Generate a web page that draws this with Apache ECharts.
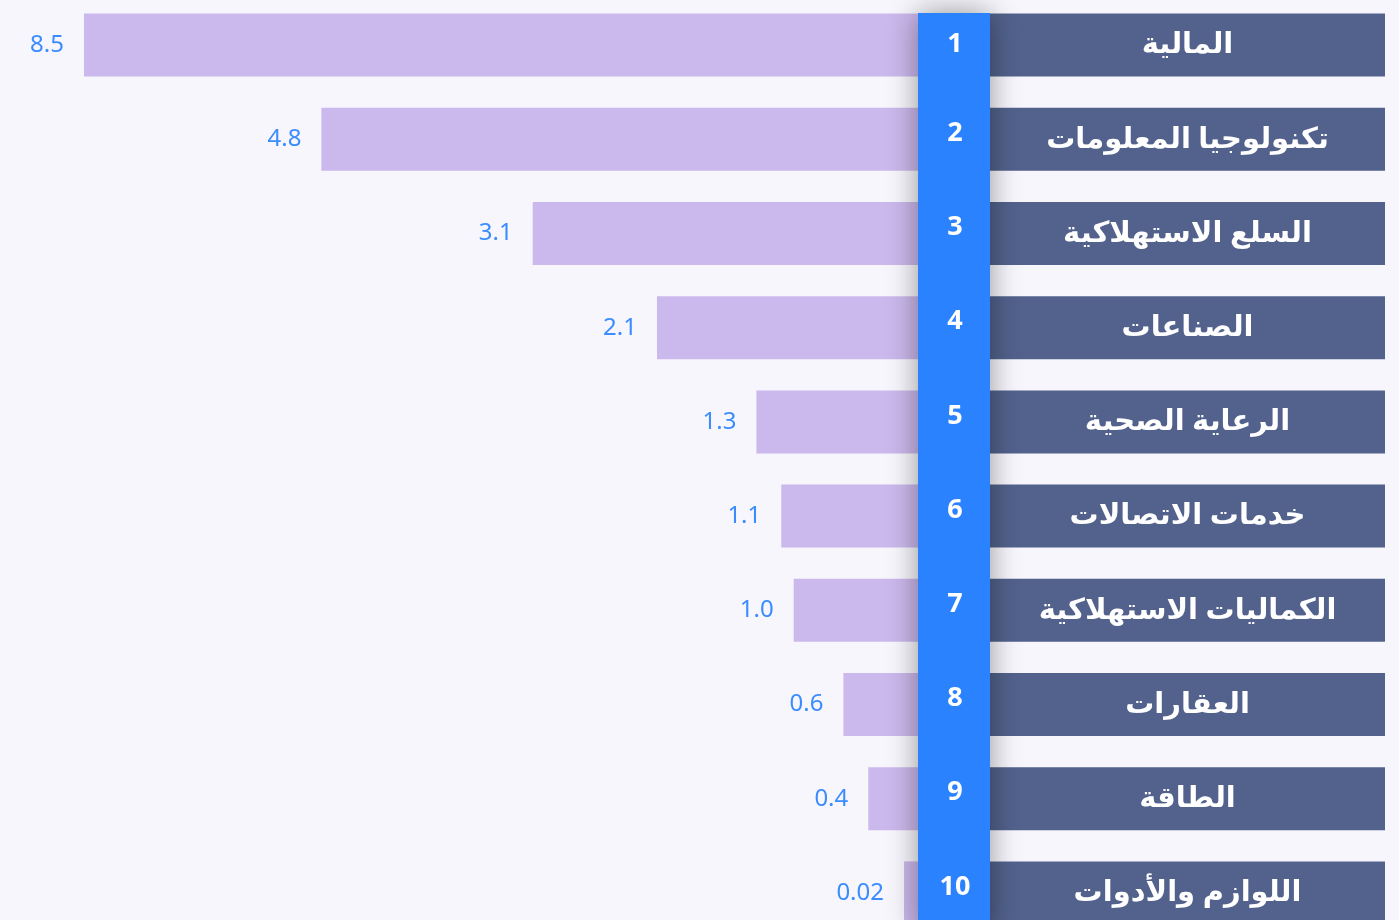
<!DOCTYPE html>
<html>
<head>
<meta charset="utf-8">
<script src="https://cdn.jsdelivr.net/npm/echarts@6/dist/echarts.min.js"></script>
<style>
  html, body { margin: 0; padding: 0; background: #f7f6fc; }
  #chart { width: 1399px; height: 920px; }
</style>
</head>
<body>
<div id="chart"></div>
<script>
// القطاعات مرتبة حسب القيمة
var sectors = ['المالية', 'تكنولوجيا المعلومات', 'السلع الاستهلاكية', 'الصناعات', 'الرعاية الصحية',
  'خدمات الاتصالات', 'الكماليات الاستهلاكية', 'العقارات', 'الطاقة', 'اللوازم والأدوات'];
var ranks = ['1', '2', '3', '4', '5', '6', '7', '8', '9', '10'];
var values = [8.5, 4.8, 3.1, 2.1, 1.3, 1.1, 1.0, 0.6, 0.4, 0.02];
var valueLabels = ['8.5', '4.8', '3.1', '2.1', '1.3', '1.1', '1.0', '0.6', '0.4', '0.02'];

var font = "'Noto Sans', 'DejaVu Sans', sans-serif";
var chart = echarts.init(document.getElementById('chart'));

chart.setOption({
  backgroundColor: '#f7f6fc',
  animation: false,
  grid: [
    {left: 84, width: 834, top: -2, height: 942, outerBoundsMode: 'none'},
    {left: 990, width: 395, top: -2, height: 942, outerBoundsMode: 'none'}
  ],
  xAxis: [
    {gridIndex: 0, type: 'value', inverse: true, min: 0, max: 6.71, show: false},
    {gridIndex: 1, type: 'value', min: 0, max: 1, show: false}
  ],
  yAxis: [
    {
      gridIndex: 0, type: 'category', inverse: true, data: ranks, position: 'right', z: 20,
      axisLine: {show: false}, axisTick: {show: false}, splitLine: {show: false},
      axisLabel: {
        margin: 37, align: 'center', verticalAlign: 'bottom', lineHeight: 12,
        color: '#ffffff', fontSize: 27, fontWeight: 'bold', fontFamily: font,
        formatter: function (v, i) { return i === 0 ? '{top|' + v + '}' : v; },
        rich: {
          top: {lineHeight: 2, color: '#ffffff', fontSize: 27, fontWeight: 'bold', fontFamily: font}
        }
      }
    },
    {gridIndex: 1, type: 'category', inverse: true, data: sectors, show: false}
  ],
  graphic: [{
    type: 'rect', z: 10,
    shape: {x: 918, y: 13, width: 72, height: 920},
    style: {fill: '#2a82ff', shadowBlur: 30, shadowColor: 'rgba(0,0,0,0.4)'}
  }],
  series: [
    {
      type: 'bar', xAxisIndex: 0, yAxisIndex: 0, barWidth: 63, barMinHeight: 14,
      data: values,
      itemStyle: {color: '#cbb8ec'},
      label: {
        show: true, position: 'left', distance: 20, color: '#3a8cff', fontSize: 24,
        fontFamily: font, padding: [8, 0, 0, 0],
        formatter: function (p) { return valueLabels[p.dataIndex]; }
      }
    },
    {
      type: 'bar', xAxisIndex: 1, yAxisIndex: 1, barWidth: 63,
      data: sectors.map(function (s) { return {name: s, value: 1}; }),
      itemStyle: {color: '#52628c'},
      label: {
        show: true, position: 'inside', formatter: '{b}', color: '#ffffff',
        fontSize: 29, fontWeight: 'bold', fontFamily: font
      }
    }
  ]
});
</script>
</body>
</html>
